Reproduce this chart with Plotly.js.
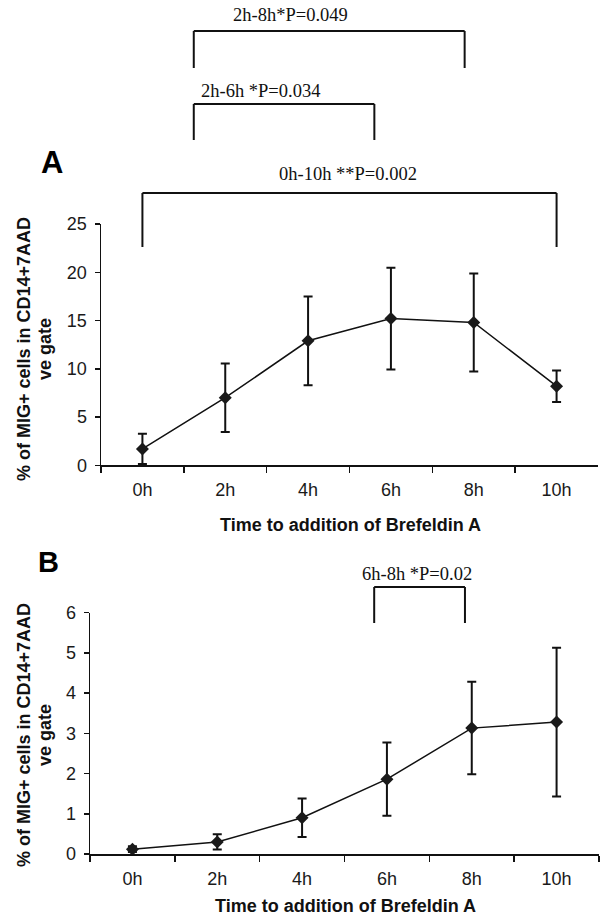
<!DOCTYPE html>
<html><head><meta charset="utf-8">
<script src="https://cdn.plot.ly/plotly-3.0.1.min.js"></script>
<style>html,body{margin:0;padding:0;background:#fff;} #chart{width:608px;height:915px;}</style>
</head><body><div id="chart"></div>
<script>
// ---- data ----
const categories = ['0h', '2h', '4h', '6h', '8h', '10h'];
const meanA = [1.7, 7.0, 12.9, 15.2, 14.8, 8.2];
const errA  = [1.57, 3.55, 4.6, 5.28, 5.07, 1.63];
const meanB = [0.12, 0.30, 0.90, 1.86, 3.13, 3.28];
const errB  = [0.07, 0.19, 0.48, 0.91, 1.15, 1.85];
const yTicksA = [0, 5, 10, 15, 20, 25];
const yTicksB = [0, 1, 2, 3, 4, 5, 6];
const xTitle = 'Time to addition of Brefeldin A';
const yTitleLine1 = '% of MIG+ cells in CD14+7AAD';
const yTitleLine2 = 've gate';
// significance brackets (ends in category units) and their labels
const bracketLabelsA = ['2h-8h*P=0.049', '2h-6h *P=0.034', '0h-10h **P=0.002'];
const bracketLeftA   = [0.62, 0.62, 0];
const bracketRightA  = [3.89, 2.80, 5];
const bracketLabelsB = ['6h-8h *P=0.02'];
const bracketLeftB   = [2.85];
const bracketRightB  = [3.92];

// ---- layout helpers ----
const W = 608, H = 915;
const py = v => 1 - v / H;           // pixel-from-top -> paper
const sans = 'Liberation Sans, Arial, sans-serif';
const serif = 'Liberation Serif, Times New Roman, serif';
const ink = '#111';

function trace(y, e, xa, ya) {
  return {
    type: 'scatter', mode: 'lines+markers', x: categories, y: y,
    xaxis: xa, yaxis: ya, hoverinfo: 'skip', cliponaxis: false,
    line: {color: ink, width: 1.5},
    marker: {symbol: 'diamond', size: 10, color: '#1a1a1a'},
    error_y: {type: 'data', array: e, visible: true, color: ink, thickness: 2, width: 4.5}
  };
}

function xAxis(domain, anchor) {
  return {
    type: 'category', categoryorder: 'array', categoryarray: categories,
    domain: domain, anchor: anchor, range: [-0.5, 5.5], fixedrange: true,
    showline: true, linecolor: ink, linewidth: 1.5, showgrid: false, zeroline: false,
    ticks: 'outside', tickson: 'boundaries', ticklen: 6, tickwidth: 1.5, tickcolor: ink,
    ticklabelstandoff: 8,
    tickfont: {family: sans, size: 18, color: '#1a1a1a'}
  };
}
function yAxis(domain, anchor, range, ticks) {
  return {
    domain: domain, anchor: anchor, range: range, fixedrange: true,
    tickmode: 'array', tickvals: ticks, ticktext: ticks.map(String),
    showline: true, linecolor: ink, linewidth: 1.5, showgrid: false, zeroline: false,
    ticks: 'outside', ticklen: 5, tickwidth: 1.5, tickcolor: ink,
    ticklabelstandoff: 4,
    tickfont: {family: sans, size: 18, color: '#1a1a1a'}
  };
}

const shapes = [];
const annotations = [];
function bracket(xref, x0, x1, yTop, yBot) {
  const line = {color: ink, width: 2};
  shapes.push({type: 'line', xref: xref, yref: 'paper', x0: x0, x1: x0, y0: py(yBot), y1: py(yTop), line: line});
  shapes.push({type: 'line', xref: xref, yref: 'paper', x0: x0, x1: x1, y0: py(yTop), y1: py(yTop), line: line});
  shapes.push({type: 'line', xref: xref, yref: 'paper', x0: x1, x1: x1, y0: py(yBot), y1: py(yTop), line: line});
}
function note(text, xref, x, y, font, extra) {
  annotations.push(Object.assign({text: text, xref: xref, yref: 'paper', x: x, y: py(y),
    xanchor: 'center', yanchor: 'middle', showarrow: false, font: font}, extra || {}));
}
const pFont = {family: serif, size: 18.5, color: '#111'};
const titleFont = {family: sans, size: 18, color: '#111', weight: 'bold'};
const letterFontA = {family: sans, size: 31, color: '#000', weight: 'bold'};
const letterFontB = {family: sans, size: 29, color: '#000', weight: 'bold'};

// panel A brackets
const bracketTopA = [31, 104, 193], bracketBotA = [68, 140, 247];
const labelXA = [1.79, 1.42, 2.48], labelYA = [15, 91, 174];
bracketLabelsA.forEach((t, i) => {
  bracket('x', bracketLeftA[i], bracketRightA[i], bracketTopA[i], bracketBotA[i]);
  note(t, 'x', labelXA[i], labelYA[i], pFont);
});
// panel B bracket
bracketLabelsB.forEach((t, i) => {
  bracket('x2', bracketLeftB[i], bracketRightB[i], 587, 623);
  note(t, 'x2', 3.36, 574, pFont);
});

// panel letters
note('A', 'paper', 52 / W, 163, letterFontA);
note('B', 'paper', 48 / W, 562, letterFontB);
// x titles
note(xTitle, 'paper', 350 / W, 525, titleFont);
note(xTitle, 'paper', 345 / W, 906, titleFont);
// y titles (two lines each)
note(yTitleLine1, 'paper', 24 / W, 349, titleFont, {textangle: -90});
note(yTitleLine2, 'paper', 45 / W, 349, titleFont, {textangle: -90});
note(yTitleLine1, 'paper', 24 / W, 735, titleFont, {textangle: -90});
note(yTitleLine2, 'paper', 45 / W, 735, titleFont, {textangle: -90});

const layout = {
  width: W, height: H, margin: {l: 0, r: 0, t: 0, b: 0},
  paper_bgcolor: '#fff', plot_bgcolor: '#fff', showlegend: false,
  xaxis: xAxis([101 / W, 598 / W], 'y'),
  yaxis: yAxis([py(465.3), py(224)], 'x', [0, 25], yTicksA),
  xaxis2: xAxis([90 / W, 599 / W], 'y2'),
  yaxis2: yAxis([py(854), py(612.7)], 'x2', [0, 6], yTicksB),
  shapes: shapes, annotations: annotations
};

Plotly.newPlot('chart', [trace(meanA, errA, 'x', 'y'), trace(meanB, errB, 'x2', 'y2')], layout,
  {staticPlot: true, displayModeBar: false});
</script></body></html>
